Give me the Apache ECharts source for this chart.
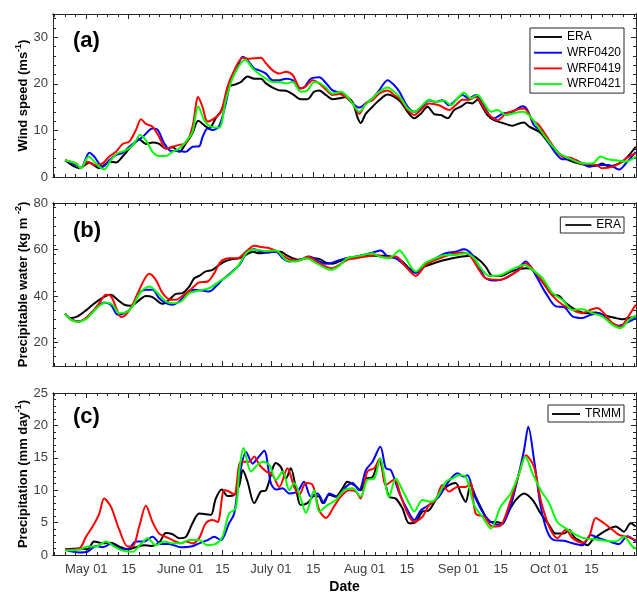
<!DOCTYPE html>
<html>
<head>
<meta charset="utf-8">
<script src="https://cdn.jsdelivr.net/npm/echarts@6/dist/echarts.min.js"></script>
<style>
    html, body { margin: 0; padding: 0; background: #fff; }
    #chart { width: 637px; height: 592px; }
</style>
</head>
<body>
<div id="chart"></div>
<script>
// x = days counted from May 01 (May 01 = 0)
var majorDays = [0, 14, 31, 45, 61, 75, 92, 106, 123, 137, 153, 167];
var majorLabels = ['May 01', '15', 'June 01', '15', 'July 01', '15', 'Aug 01', '15', 'Sep 01', '15', 'Oct 01', '15'];

var windTicks = [0, 10, 20, 30];
var pwTicks = [20, 40, 60, 80];
var rainTicks = [0, 5, 10, 15, 20, 25];

// (a) wind speed, m s-1
var windEra = [[-7,3.6],[-2.3,1.9],[1,3.1],[4.3,1.9],[7.6,3.3],[9.8,3.1],[12,4.4],[14.2,6.1],[16.4,7.6],[17.5,8.1],[19.7,7.1],[21.9,7.4],[24.1,7.1],[26.3,6.1],[28.5,6.4],[30.7,5.4],[32.9,7.2],[35.1,9.4],[37,12.1],[39,11.1],[40.6,10.4],[42.8,12.6],[45,14.7],[47.2,19.4],[49.4,19.9],[51.1,20.4],[53.3,21.6],[55.5,21.1],[57.7,21.1],[59.4,20.1],[61.6,19.2],[63.8,18.6],[66,18.5],[68.2,17.8],[70.9,16.7],[73.1,16.7],[75.3,18.3],[77,18.6],[79.2,17.6],[81.4,16.7],[83.6,16.9],[85.8,17.2],[88,16.1],[89.6,12.9],[90.7,11.6],[92.4,13.6],[94.6,15.1],[96.8,16.5],[99.6,17.7],[101.8,17.2],[104,16.1],[106.2,14],[108.4,12.6],[110.6,13.6],[112.8,15.1],[115,13.5],[117.2,13.3],[119.4,12.6],[121.6,14.4],[123.8,15.1],[126,16],[127.6,15.8],[129.3,16.6],[130.9,15.1],[132.6,13.3],[134.8,12.2],[137.6,11.6],[140.9,11],[143.1,11.5],[144.7,11.7],[146.4,10.8],[149.7,9.7],[153,7.2],[155.2,5.8],[157.4,4.4],[159.6,3.6],[162.9,2.9],[165.6,2.6],[168.4,2.4],[170.6,2.9],[172.8,2.2],[175,2.6],[177.2,3.3],[179.4,4.7],[181.6,6.5]];
var windW0420 = [[-7,3.6],[-3.4,2.6],[-1.8,1.9],[1,5.2],[2.6,4.4],[5.4,2.2],[7.6,3.6],[9.8,4.7],[12,5.2],[14.2,6.5],[16.4,7.6],[18.6,8.6],[21.9,10.4],[23.6,10.1],[25.8,7.2],[28,5.6],[30.7,5.6],[32.9,5.4],[35.1,6.5],[37.3,6.6],[38.4,8.5],[40.1,10.4],[41.7,10.1],[43.9,10.9],[46.1,15.8],[47.8,20.8],[50,23.6],[51.7,25.8],[53.3,25.1],[55.5,23.3],[57.2,22.9],[59.4,22.2],[61.6,20.8],[63.8,20.8],[66,21.1],[68.2,20.8],[70.4,19],[72,19.2],[74.2,21.1],[77,21.4],[79.2,20.2],[81.4,18.6],[83.6,18.1],[85.8,17.2],[88,15.8],[90.2,14.9],[92.4,15.8],[94.6,16.9],[96.8,18.6],[99.6,20.8],[101.8,19.7],[103.5,18.3],[106.2,15.1],[108.4,14],[110.6,14.7],[113.3,16.5],[115.5,16.1],[117.7,16.5],[119.9,15.4],[122.1,16.5],[124.3,17.6],[126.5,16.9],[128.7,17.6],[130.9,15.8],[133.2,13.3],[134.8,12.6],[137.6,13.6],[140.9,14],[144.2,15.2],[145.8,14.4],[148,11.1],[150.8,9.7],[153,7.2],[155.2,5.1],[157.4,3.8],[160.7,3.8],[164,2.9],[166.2,2.2],[169.5,2.6],[172.8,2.6],[176.1,1.6],[178.3,2.9],[181.6,5.4]];
var windW0419 = [[-7,3.6],[-3.4,2.9],[-1.8,1.9],[0.4,3.3],[2.6,2.6],[5.4,2.9],[7.6,4.4],[9.8,5.4],[12,7.1],[14.2,7.6],[16.4,10.1],[18.1,12.4],[19.7,11.4],[21.9,10.8],[24.1,8.6],[26.3,6.1],[28.5,6.5],[30.7,6.9],[32.9,7.2],[35.1,10.8],[37,17.2],[38.4,15.1],[40.1,11.9],[42.3,12.6],[44.5,14],[46.7,19.4],[48.9,22.9],[51.7,25.6],[53.9,25.4],[57.7,25.6],[59.4,24.4],[61.6,22.9],[63.8,22.2],[66,22.6],[68.2,21.9],[70.9,19],[72.6,19.5],[74.8,20.8],[77,20.1],[79.2,18.8],[81.4,17.6],[83.6,17.8],[85.8,17.2],[88,15.8],[90.2,13.6],[92.4,15.8],[94.6,16.5],[96.8,17.9],[99.6,18.6],[101.8,17.6],[104,16.5],[106.2,14.4],[108.4,13.3],[110.6,14.4],[113.3,15.8],[116.6,15.4],[119.9,14.4],[122.1,15.4],[124.3,16.6],[126.5,16.6],[128.7,17.2],[130.9,15.4],[133.2,13.3],[135.9,12.2],[138.7,13.6],[142,14.4],[144.7,14.7],[147.5,12.2],[149.7,11.1],[153,7.9],[155.2,5.8],[157.4,4.4],[160.7,4],[164,2.9],[168.4,2.6],[170.6,1.9],[173.9,2.2],[176.1,2.9],[179.4,4.4],[181.6,5.1]];
var windW0421 = [[-7,3.6],[-3.4,2.9],[-1.8,1.9],[0.8,4.4],[3.2,2.9],[5.9,1.6],[8.1,3.6],[10.4,5.1],[12.6,5.6],[14.8,6.5],[16.4,7.8],[17.7,9],[19.7,7.9],[21.9,5.4],[24.1,4.5],[26.3,4.5],[28.5,5.4],[30.7,6.1],[32.9,7.6],[35.1,9.7],[37,15.2],[39,12.2],[41.2,10.8],[43.9,10.6],[46.1,16.5],[48.3,21.1],[50.6,24],[52.5,25.2],[55,23.3],[57.2,22.1],[59.4,21.1],[61.6,20.4],[63.8,20.4],[66,20.1],[68.2,20.4],[70.9,18.3],[73.1,18.6],[75.3,20.4],[77,20.2],[79.2,19.2],[81.4,17.9],[84.1,18.3],[85.8,17.6],[88,15.8],[90.2,14],[92.4,15.6],[94.6,16.9],[96.8,18.3],[99.6,19.2],[101.8,18.3],[104,16.9],[106.2,14.7],[108.4,14],[110.6,15.1],[113.3,16.6],[115.5,16.1],[118.3,16.4],[120.5,15.4],[122.7,16.9],[124.8,18.1],[127,16.9],[129.3,17.6],[131.5,15.8],[133.7,14],[135.9,14.4],[138.7,13.3],[142,13.8],[144.2,14],[146.9,12.9],[149.7,10.4],[153,7.5],[156.3,5.1],[159.6,4],[164,2.9],[167.3,2.9],[170,4.4],[172.3,3.8],[175,3.6],[178.3,3.3],[181.6,4.4]];

// (b) precipitable water, kg m-2
var pwEra = [[-7,32.4],[-5.1,30.6],[-2.9,31.3],[-0.1,33.9],[2.1,36.3],[4.3,38.4],[6.5,40.1],[8.1,40.6],[10.4,38.4],[12.6,36.3],[14.8,35.9],[17,37.7],[19.7,40.1],[21.9,39.6],[25.2,36.7],[27.4,38.4],[29.6,41],[31.8,41.3],[34,44.1],[35.7,47.7],[37.3,48.7],[39.5,50.6],[41.7,51.3],[43.9,53.4],[46.1,55.1],[48.3,55.9],[50.6,56.3],[52.8,57.7],[55,59.1],[57.2,58.4],[59.4,58.7],[61.6,59.1],[64.3,59.1],[66,57.7],[68.2,56.3],[70.4,55.6],[72.6,56.3],[74.8,56.3],[77,56],[79.2,54.4],[81.4,53.9],[83.6,54.9],[85.8,56.3],[89.1,57],[92.4,57.3],[95.7,57.3],[99,57.3],[102.3,56.3],[104.5,54.9],[106.7,52],[108.9,50.1],[111.1,52.4],[114.4,53.9],[117.7,55.3],[121,56.3],[124.3,57],[127.6,57.3],[129.8,55.6],[132,52.7],[134.3,48.7],[137,48.7],[140.3,50.6],[143.1,51.6],[145.8,52],[147.5,51.3],[149.7,48.1],[151.9,44.1],[154.1,40.6],[156.3,40.1],[158.5,37],[161.8,34.1],[165.1,32.7],[168.4,33],[171.7,31.6],[175,30.6],[177.2,30.1],[179.4,30.6],[181.6,31.4]];
var pwW0420 = [[-7,32.4],[-5.1,30.1],[-2.3,29.1],[-0.1,30.6],[2.1,33.4],[4.3,36.3],[5.9,37.3],[8.1,36.3],[10.4,32],[12.6,32.7],[14.8,34.9],[17.5,41.3],[19.7,42.7],[21.9,42.7],[24.1,39.1],[26.3,37],[28.5,36.3],[30.7,37.7],[32.9,40.6],[35.7,42.7],[38.4,42.4],[40.6,42],[42.8,44.1],[45,47],[48.3,50.6],[50.6,53.4],[53.3,59.1],[55.5,60.1],[57.7,59.1],[59.9,58.7],[62.7,59.1],[64.9,56.3],[67.1,54.9],[69.3,55.3],[71.5,55.9],[73.7,57],[77,54.9],[79.2,53.9],[81.4,54.4],[84.7,55.9],[88,56.3],[91.3,57.7],[94.6,58.7],[97.4,59.6],[99.6,57],[102.3,56.3],[105.1,53.4],[108.9,49.9],[112.2,54.1],[115.5,56.3],[118.8,58.4],[122.1,59.1],[124.8,60.1],[127.6,57.7],[129.8,52.7],[132,47.7],[135.4,46.7],[138.7,47.7],[142,50.6],[145.3,54.9],[147.5,51.3],[149.7,46.3],[151.9,41.3],[155.2,35.6],[157.9,35.3],[160.7,31.3],[164,30.6],[166.7,32],[169.5,32.7],[172.8,29.1],[176.1,27.3],[179.4,29.1],[181.6,30.6]];
var pwW0419 = [[-7,32.4],[-5.1,29.9],[-2.3,29.1],[-0.1,30.6],[2.1,33.4],[4.3,37],[6.5,40.6],[8.1,40.1],[10.4,33.4],[11.5,31],[13.1,32],[15.3,36.3],[17.5,42.7],[20.8,49.6],[23,47],[25.2,41.3],[28,38.4],[29.6,38.4],[31.8,40.1],[34.6,43],[37.3,45.9],[40.1,46.3],[42.3,49.9],[44.5,54.9],[47.2,56.3],[50,56.3],[52.8,59.1],[55.5,61.6],[58.3,61],[60.5,60.6],[63.2,59.1],[65.4,57],[67.6,55.6],[70.4,55.3],[73.1,57],[77,54.1],[79.2,52.7],[81.4,52],[83.6,53.4],[86.3,55.6],[89.1,56.3],[92.4,57],[95.7,57.7],[99,56.7],[102.3,57],[105.1,53.4],[108.9,48.7],[112.2,53.4],[115.5,55.6],[119.9,57.7],[124.3,58.7],[127,57],[129.8,51.3],[132,47.7],[136.5,47],[139.8,48.7],[143.1,51.3],[145.3,54.1],[148.6,49.9],[151.9,44.1],[154.1,40.1],[157.4,36.3],[160.7,34.1],[164,32.7],[166.2,33.9],[168.9,34.9],[171.1,32.7],[173.9,28.4],[176.6,27],[178.8,30.6],[181.6,36.3]];
var pwW0421 = [[-7,32.4],[-5.1,29.9],[-2.9,28.9],[-0.1,30.1],[2.1,33],[4.3,35.9],[6.5,37.3],[8.7,36.3],[10.9,32.7],[13.1,33],[15.3,35.6],[18.1,42],[20.8,44.1],[23.6,41.3],[26.3,37.7],[28.5,37],[31.3,37.7],[34,41.3],[37.3,42.4],[40.6,43.4],[43.9,46.3],[47.2,49.1],[50,52.7],[53.3,59.1],[56.1,59.9],[59.4,59.4],[62.7,59.6],[66,55.6],[69.3,54.9],[72.6,56.3],[77,53.4],[80.8,51.3],[83.6,53],[86.3,56.3],[90.2,57.3],[94.6,58.4],[96.8,57],[100.1,56.3],[103.5,59.6],[105.6,56.3],[108.9,50.6],[112.2,54.4],[115.5,56.3],[118.8,57.7],[122.1,57.7],[125.4,58.4],[128.2,56.3],[130.4,52],[133.2,48.7],[137,49.1],[140.9,51.6],[144.7,53.4],[147.5,51.3],[150.8,47.7],[154.1,41.3],[157.4,38.4],[160.7,34.1],[164,34.4],[167.3,32.7],[170.6,31.3],[173.9,27.7],[176.6,26.3],[179.4,29.9],[181.6,31.6]];

// (c) precipitation, mm day-1
var rainTrmm = [[-7,0.9],[-2.3,1],[0.4,0.9],[2.6,2.1],[5.4,1.8],[8.1,1.9],[10.9,1.3],[13.7,0.9],[16.4,1.2],[19.2,1.5],[21.4,1.4],[24.1,1.9],[26.3,3.4],[28.5,3.2],[30.7,2.6],[32.9,2.8],[35.1,4.9],[37.3,6.4],[39.5,6.3],[41.2,6.2],[42.8,8.7],[44.8,10.1],[46.7,9.1],[48.9,9.3],[50.6,10.8],[51.7,13.1],[53.3,11.3],[55.5,8],[57.7,9.8],[59.4,10],[62.7,14.2],[64.3,13.6],[66,11.8],[67.6,13.4],[69.3,10.3],[70.9,7.7],[73.1,8],[75.3,9.1],[77,9],[78.1,8],[80.3,9.3],[82.5,9],[84.7,10.3],[86.3,11.3],[88.5,10.8],[90.7,10],[92.4,11.8],[94.6,12],[96.8,14.7],[98.5,11.8],[100.1,9],[102.3,8.7],[104.5,7.2],[106.7,4.9],[108.9,5.1],[111.1,6.7],[113.3,6.9],[115.5,8.5],[117.7,10],[119.9,10.8],[122.1,11.1],[123.8,9.5],[125.4,8.2],[127,10.8],[128.7,9],[130.9,6.9],[133.2,5.1],[135.4,5.1],[137.6,4.9],[139.2,6.4],[142,8.5],[144.7,9.5],[147.5,8.5],[150.2,6.4],[153,4.6],[155.2,3.3],[157.9,3.3],[159.6,3.9],[161.2,2.8],[163.4,2.1],[165.6,1.5],[167.3,2.3],[169.5,3.1],[172.3,3.9],[175,4.4],[177.7,3.6],[179.9,4.9],[181.6,4.4]];
var rainW0420 = [[-7,0.8],[-2.3,0.4],[0.4,0.5],[3.2,1.4],[5.4,1.2],[8.1,1.7],[10.9,1],[13.7,0.9],[16.4,2.1],[19.2,2.1],[21.9,2.8],[24.7,1.7],[27.4,1.7],[31.3,1.2],[34.6,1.3],[37.3,1.8],[40.1,2.3],[42.3,2.8],[44.5,2.3],[47.2,4.9],[48.9,6.4],[50.6,12.1],[52.8,15.9],[55,14.1],[56.6,14.9],[58.8,16.1],[61,11.1],[62.7,10.1],[64.9,10.3],[67.1,9.5],[69.8,9.8],[72,11.3],[74.2,9],[76.4,9.5],[78.6,8],[80.3,9.5],[83,9],[85.8,10.5],[88,11.1],[90.2,10],[92.4,13.1],[94.6,14.4],[97.2,16.7],[99,13.4],[100.7,13.1],[103.5,9.5],[106.2,6.9],[108.4,5.4],[110.6,6.9],[113.3,7.7],[116.6,9],[119.4,11.1],[122.7,12.6],[124.8,12.1],[126,12.3],[128.2,9.3],[130.9,6.7],[133.7,5.1],[137,4.6],[139.8,6.9],[142.5,11.6],[144.7,16.2],[146.1,19.8],[148,14.7],[150.2,7.5],[152.4,3.6],[154.6,2.3],[157.9,2.2],[160.7,1.8],[164,1.5],[166.7,3.1],[169.5,2.6],[172.8,2.1],[176.1,1.7],[178.8,2.9],[181.6,2.1]];
var rainW0419 = [[-7,0.8],[-2.3,1],[-0.1,2.8],[2.1,4.4],[4.3,6.4],[5.9,8.7],[8.1,7.5],[10.9,3.9],[13.7,1.3],[15.3,1.3],[17.5,4.4],[19.7,7.6],[21.9,5.1],[24.1,3.3],[26.3,2.8],[28.5,2.3],[31.3,1.8],[32.9,2.1],[35.1,1.8],[37.3,2.6],[39.5,4.9],[41.7,5.4],[43.4,5.1],[45.6,10],[47.2,9.8],[48.9,9.3],[51.1,14.4],[53.9,14.4],[55.5,15.2],[57.2,13.9],[59.4,12.9],[61.6,12.3],[63.8,10.5],[66.5,13.4],[68.7,10.5],[70.4,9.3],[72.6,11.1],[74.8,10.8],[77,6.9],[79.2,5.7],[81.9,7.5],[84.1,9],[86.9,10],[89.1,9.8],[90.7,8.7],[92.9,12.9],[95.2,13.4],[97.1,14.9],[99,10.8],[101.8,11.6],[104,9],[106.2,6.4],[108.4,5.1],[111.1,5.9],[113.3,7.7],[115.5,8.5],[117.7,10.8],[119.9,9.8],[122.7,10.5],[125.4,10.5],[127,11.1],[128.7,6.4],[131.5,5.9],[134.3,4.4],[137,4.6],[140.3,8.5],[143.1,12.6],[145.3,15.4],[148,13.6],[150.2,8.5],[153,4.4],[155.7,2.6],[158.5,3.9],[160.7,2.6],[164,1.9],[166.2,2.8],[168.4,5.7],[171.1,4.9],[173.9,3.9],[176.1,3.1],[178.8,2.8],[181.6,2.3]];
var rainW0421 = [[-7,0.7],[-2.3,0.8],[0.4,1.3],[3.2,1.3],[6.5,2.1],[9.3,1.3],[12,0.7],[15.3,0.5],[17.5,1.4],[20.3,2.6],[23,1.5],[25.8,2.1],[28.5,1.8],[31.3,1.8],[34,2.3],[37.3,2.3],[40.1,1.5],[42.8,1.7],[45,2.8],[47.2,6.4],[49.4,7.2],[50.6,13.1],[52,16.5],[54.4,12.9],[56.6,13.9],[58.3,14.4],[60.5,13.9],[62.7,11.6],[64.9,12.9],[67.1,10],[68.7,11.1],[70.9,8.7],[72.6,6.5],[75.3,10],[77,6.7],[79.7,7.7],[82.5,8.5],[85.2,10],[88,10.3],[90.7,9],[92.9,11.6],[95.2,11.8],[97.1,14.9],[100.1,9],[102.3,11.8],[104.5,10],[106.7,8],[108.4,6.7],[111.1,8.5],[113.9,8.2],[116.1,9],[118.8,11.3],[121,11.8],[123.2,12.3],[125.4,12.1],[128.2,7.7],[130.9,5.9],[133.7,4.1],[137,7.5],[140.3,9.5],[143.1,12.6],[145.1,15.2],[147.5,12.6],[150.2,10],[153,8],[155.7,5.1],[158.5,4.1],[161.2,3.3],[164.5,2.6],[168.4,2.4],[171.7,2.2],[175,2.1],[177.7,2.8],[180.5,1.3],[181.6,1]];

var FONT = '"Liberation Sans", Arial, sans-serif';
var AXIS_COLOR = '#262626';
var X_MIN = -11, X_MAX = 181.7;

// 次刻度：主刻度之间按约3.5天划分
function minorDays() {
    var out = [];
    for (var d = majorDays[0] - 3.5; d > X_MIN; d -= 3.5) out.push(d);
    for (var i = 0; i < majorDays.length - 1; i++) {
        var gap = majorDays[i + 1] - majorDays[i];
        var n = Math.round(gap / 3.5);
        for (var k = 1; k < n; k++) out.push(majorDays[i] + gap * k / n);
    }
    for (var e = majorDays[majorDays.length - 1] + 3.5; e < X_MAX; e += 3.5) out.push(e);
    return out.sort(function (a, b) { return a - b; });
}

function minorValues(min, max, step, majors) {
    var out = [];
    for (var v = min; v <= max + 1e-9; v += step) {
        var r = Math.round(v * 100) / 100;
        if (majors.indexOf(r) == -1 && r > min && r < max) out.push(r);
    }
    return out;
}

function xAxesFor(gridIndex, showLabels) {
    var minors = minorDays();
    var base = function (position, ticks, len, labels) {
        return {
            type: 'value', gridIndex: gridIndex, position: position,
            min: X_MIN, max: X_MAX,
            axisLine: { show: true, onZero: false, lineStyle: { color: AXIS_COLOR, width: 1 } },
            splitLine: { show: false },
            axisTick: { show: true, inside: true, length: len, customValues: ticks, lineStyle: { color: AXIS_COLOR } },
            axisLabel: labels ? {
                show: true, customValues: majorDays, margin: 8,
                color: '#404040', fontSize: 13, fontFamily: FONT,
                formatter: function (v) {
                    var i = majorDays.indexOf(Math.round(v));
                    return i == -1 ? '' : majorLabels[i];
                }
            } : { show: false }
        };
    };
    var list = [
        base('bottom', majorDays, 5, showLabels),
        base('top', majorDays, 5, false),
        base('top', minors, 3, false),    // 位置被占用时ECharts会翻到另一边
        base('bottom', minors, 3, false)
    ];
    if (showLabels) {
        list[0].name = 'Date';
        list[0].nameLocation = 'middle';
        list[0].nameGap = 25;
        list[0].nameMoveOverlap = false;
        list[0].nameTextStyle = { fontFamily: FONT, fontSize: 14, fontWeight: 'bold', color: '#000' };
    }
    return list;
}

function yAxesFor(gridIndex, min, max, majors, step, name) {
    var minors = minorValues(min, max, step, majors);
    var base = function (position, ticks, len, labels) {
        return {
            type: 'value', gridIndex: gridIndex, position: position,
            min: min, max: max,
            axisLine: { show: true, onZero: false, lineStyle: { color: AXIS_COLOR, width: 1 } },
            splitLine: { show: false },
            axisTick: { show: true, inside: true, length: len, customValues: ticks, lineStyle: { color: AXIS_COLOR } },
            axisLabel: labels ? {
                show: true, customValues: majors, margin: 5,
                color: '#404040', fontSize: 13, fontFamily: FONT
            } : { show: false }
        };
    };
    var list = [
        base('left', majors, 5, true),
        base('right', majors, 5, false),
        base('right', minors, 3, false),
        base('left', minors, 3, false)
    ];
    list[0].name = name;
    list[0].nameLocation = 'middle';
    list[0].nameGap = 21;
    list[0].nameMoveOverlap = false;
    list[0].nameTextStyle = {
        fontFamily: FONT, fontSize: 13, fontWeight: 'bold', color: '#000', lineHeight: 18,
        rich: { sup: { fontFamily: FONT, fontSize: 9, fontWeight: 'bold', color: '#000', verticalAlign: 'top', lineHeight: 9 } }
    };
    return list;
}

function lineSeries(name, data, color, grid) {
    return {
        name: name, type: 'line', data: data,
        xAxisIndex: grid * 4, yAxisIndex: grid * 4,
        smooth: 0.3, symbol: 'none', showSymbol: false,
        lineStyle: { color: color, width: 2 },
        itemStyle: { color: color },
        emphasis: { disabled: true }
    };
}

// 图例：只画一段线，不要圆点
function legendBox(items, top, itemWidth, padding) {
    return {
        data: items, orient: 'vertical', right: 13, top: top,
        icon: 'path://M0,0H30V2H0Z',
        itemWidth: itemWidth, itemHeight: 14, itemGap: 3.7,
        padding: padding,
        borderColor: AXIS_COLOR, borderWidth: 1, backgroundColor: '#fff',
        textStyle: { fontFamily: FONT, fontSize: 12, color: '#000' },
        selectedMode: false
    };
}

var BLACK = '#000000', BLUE = '#0000ff', RED = '#ff0000', GREEN = '#00ff00';

// 网格固定位置，不让ECharts为放下文字而缩小绘图区
function gridAt(top, height) {
    return { left: 53, top: top, width: 583, height: height, outerBoundsMode: 'none', containLabel: false };
}

var chart = echarts.init(document.getElementById('chart'), null, { renderer: 'canvas' });
chart.setOption({
    animation: false,
    backgroundColor: '#fff',
    grid: [gridAt(14, 163), gridAt(203, 163), gridAt(393, 162)],
    xAxis: [].concat(xAxesFor(0, false), xAxesFor(1, false), xAxesFor(2, true)),
    yAxis: [].concat(
        yAxesFor(0, 0, 35, windTicks, 2, 'Wind speed (ms{sup|-1})'),
        yAxesFor(1, 10, 80, pwTicks, 4, 'Precipitable water (kg m {sup|-2})'),
        yAxesFor(2, 0, 25, rainTicks, 1, 'Precipitation (mm day{sup|-1})')
    ),
    legend: [
        legendBox(['ERA', 'WRF0420', 'WRF0419', 'WRF0421'], 28, 28, [3, 3, 3, 4]),
        legendBox(['ERA'], 217, 26, [2, 3, 2, 5]),
        legendBox(['TRMM'], 405, 28, [3, 3, 2, 4])
    ],
    graphic: [
        { type: 'text', left: 73, top: 30, style: { text: '(a)', font: 'bold 22px ' + FONT, fill: '#000' } },
        { type: 'text', left: 73, top: 220, style: { text: '(b)', font: 'bold 22px ' + FONT, fill: '#000' } },
        { type: 'text', left: 73, top: 406, style: { text: '(c)', font: 'bold 22px ' + FONT, fill: '#000' } }
    ],
    series: [
        lineSeries('ERA', windEra, BLACK, 0),
        lineSeries('WRF0420', windW0420, BLUE, 0),
        lineSeries('WRF0419', windW0419, RED, 0),
        lineSeries('WRF0421', windW0421, GREEN, 0),
        lineSeries('ERA', pwEra, BLACK, 1),
        lineSeries('WRF0420', pwW0420, BLUE, 1),
        lineSeries('WRF0419', pwW0419, RED, 1),
        lineSeries('WRF0421', pwW0421, GREEN, 1),
        lineSeries('TRMM', rainTrmm, BLACK, 2),
        lineSeries('WRF0420', rainW0420, BLUE, 2),
        lineSeries('WRF0419', rainW0419, RED, 2),
        lineSeries('WRF0421', rainW0421, GREEN, 2)
    ]
});
</script>
</body>
</html>
